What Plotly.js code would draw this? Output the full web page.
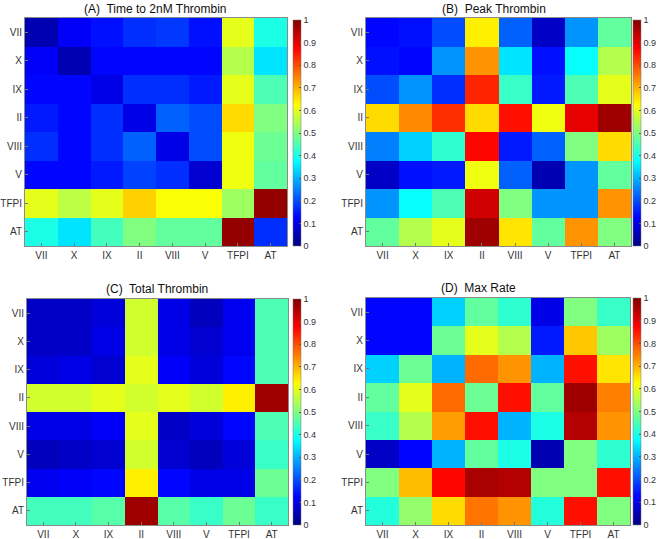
<!DOCTYPE html>
<html>
<head>
<meta charset="utf-8">
<script src="https://cdn.plot.ly/plotly-3.0.1.min.js"></script>
<style>html,body{margin:0;padding:0;background:#fff;}#chart{width:661px;height:539px;}</style>
</head>
<body>
<div id="chart"></div>
<script>
var factors = ["VII", "X", "IX", "II", "VIII", "V", "TFPI", "AT"];
var colorTicks = [0, 0.1, 0.2, 0.3, 0.4, 0.5, 0.6, 0.7, 0.8, 0.9, 1];
var colorTickText = ["0", "0.1", "0.2", "0.3", "0.4", "0.5", "0.6", "0.7", "0.8", "0.9", "1"];

var titleA = "(A)  Time to 2nM Thrombin";
var titleB = "(B)  Peak Thrombin";
var titleC = "(C)  Total Thrombin";
var titleD = "(D)  Max Rate";

var timeTo2nM = [
  [0.05, 0.12, 0.14, 0.17, 0.18, 0.14, 0.60, 0.40],
  [0.12, 0.05, 0.13, 0.13, 0.13, 0.13, 0.55, 0.35],
  [0.13, 0.13, 0.10, 0.17, 0.17, 0.15, 0.60, 0.45],
  [0.15, 0.13, 0.17, 0.10, 0.22, 0.20, 0.66, 0.50],
  [0.17, 0.13, 0.17, 0.22, 0.10, 0.20, 0.61, 0.48],
  [0.13, 0.13, 0.15, 0.19, 0.17, 0.08, 0.61, 0.47],
  [0.60, 0.56, 0.60, 0.67, 0.62, 0.62, 0.53, 0.98],
  [0.40, 0.35, 0.44, 0.50, 0.47, 0.47, 0.98, 0.17]
];
var peakThrombin = [
  [0.13, 0.14, 0.20, 0.64, 0.22, 0.07, 0.27, 0.47],
  [0.14, 0.13, 0.27, 0.73, 0.35, 0.14, 0.38, 0.55],
  [0.20, 0.27, 0.17, 0.84, 0.43, 0.15, 0.45, 0.60],
  [0.66, 0.74, 0.83, 0.66, 0.86, 0.61, 0.90, 0.97],
  [0.25, 0.33, 0.42, 0.87, 0.15, 0.22, 0.50, 0.66],
  [0.07, 0.14, 0.15, 0.61, 0.22, 0.05, 0.27, 0.47],
  [0.27, 0.38, 0.45, 0.92, 0.50, 0.27, 0.27, 0.73],
  [0.47, 0.55, 0.60, 0.97, 0.65, 0.47, 0.73, 0.50]
];
var totalThrombin = [
  [0.07, 0.07, 0.09, 0.58, 0.10, 0.06, 0.11, 0.45],
  [0.07, 0.07, 0.10, 0.58, 0.10, 0.08, 0.11, 0.45],
  [0.09, 0.10, 0.08, 0.60, 0.12, 0.09, 0.13, 0.45],
  [0.58, 0.58, 0.60, 0.58, 0.60, 0.58, 0.64, 0.97],
  [0.10, 0.10, 0.12, 0.60, 0.07, 0.09, 0.13, 0.45],
  [0.06, 0.07, 0.08, 0.58, 0.08, 0.06, 0.09, 0.43],
  [0.11, 0.12, 0.13, 0.64, 0.13, 0.10, 0.10, 0.48],
  [0.44, 0.44, 0.46, 0.97, 0.46, 0.43, 0.48, 0.43]
];
var maxRate = [
  [0.13, 0.13, 0.33, 0.47, 0.42, 0.10, 0.50, 0.43],
  [0.13, 0.13, 0.48, 0.60, 0.55, 0.15, 0.68, 0.53],
  [0.33, 0.48, 0.30, 0.77, 0.73, 0.30, 0.86, 0.65],
  [0.47, 0.60, 0.77, 0.48, 0.86, 0.47, 0.97, 0.75],
  [0.43, 0.55, 0.72, 0.86, 0.30, 0.40, 0.95, 0.73],
  [0.07, 0.13, 0.30, 0.47, 0.40, 0.05, 0.50, 0.42],
  [0.50, 0.69, 0.87, 0.96, 0.95, 0.50, 0.50, 0.86],
  [0.41, 0.52, 0.66, 0.76, 0.73, 0.41, 0.86, 0.50]
];

var W = 661, H = 539;
var jet = [
  [0, "rgb(0,0,128)"], [0.125, "rgb(0,0,255)"], [0.375, "rgb(0,255,255)"],
  [0.625, "rgb(255,255,0)"], [0.875, "rgb(255,0,0)"], [1, "rgb(128,0,0)"]
];

// panel pixel boxes: [left, right, top, bottom], colorbar [left, top, bottom]
var panels = [
  {z: timeTo2nM, title: titleA, box: [25, 287, 18, 246], cb: [293, 20, 246], tx: 155, ty: 9},
  {z: peakThrombin, title: titleB, box: [366, 631, 18, 246], cb: [633, 20, 246], tx: 494, ty: 9},
  {z: totalThrombin, title: titleC, box: [27, 288, 299, 525], cb: [293, 299, 525], tx: 157, ty: 289},
  {z: maxRate, title: titleD, box: [366, 630, 298, 525], cb: [633, 298, 525], tx: 478, ty: 288}
];

var data = [];
var layout = {
  width: W, height: H,
  margin: {l: 0, r: 0, t: 0, b: 0},
  paper_bgcolor: "#fff", plot_bgcolor: "#fff",
  font: {family: "Liberation Sans, Arial, sans-serif", color: "#222"},
  showlegend: false,
  annotations: []
};

panels.forEach(function (p, i) {
  var n = i === 0 ? "" : String(i + 1);
  data.push({
    type: "heatmap",
    x: factors, y: factors, z: p.z,
    xaxis: "x" + n, yaxis: "y" + n,
    zmin: 0, zmax: 1,
    colorscale: jet,
    xgap: 0, ygap: 0,
    showscale: true,
    colorbar: {
      x: p.cb[0] / W, xanchor: "left", xpad: 0,
      y: 1 - p.cb[2] / H, yanchor: "bottom", ypad: 0,
      len: (p.cb[2] - p.cb[1]) / H, lenmode: "fraction",
      thickness: 8, thicknessmode: "pixels",
      outlinewidth: 0.5, outlinecolor: "#777",
      tickvals: colorTicks, ticktext: colorTickText,
      ticks: "inside", ticklen: 2, tickcolor: "#555",
      tickfont: {size: 9, color: "#333", family: "Liberation Sans, Arial, sans-serif"}
    }
  });
  var axCommon = {
    type: "category",
    showline: true, mirror: true, linecolor: "#8a8a8a", linewidth: 1,
    ticks: "inside", ticklen: 3, tickcolor: "#777",
    showgrid: false, zeroline: false, fixedrange: true,
    tickfont: {size: 10, color: "#333", family: "Liberation Sans, Arial, sans-serif"}
  };
  var xa = Object.assign({}, axCommon, {
    domain: [p.box[0] / W, p.box[1] / W],
    anchor: "y" + n
  });
  var ya = Object.assign({}, axCommon, {
    domain: [1 - p.box[3] / H, 1 - p.box[2] / H],
    anchor: "x" + n,
    autorange: "reversed"
  });
  layout["xaxis" + n] = xa;
  layout["yaxis" + n] = ya;
  layout.annotations.push({
    text: p.title, showarrow: false,
    xref: "paper", yref: "paper",
    x: p.tx / W, y: 1 - p.ty / H,
    xanchor: "center", yanchor: "middle",
    font: {size: 12, color: "#111", family: "Liberation Sans, Arial, sans-serif"}
  });
});

Plotly.newPlot("chart", data, layout, {displayModeBar: false, staticPlot: true});
</script>
</body>
</html>
